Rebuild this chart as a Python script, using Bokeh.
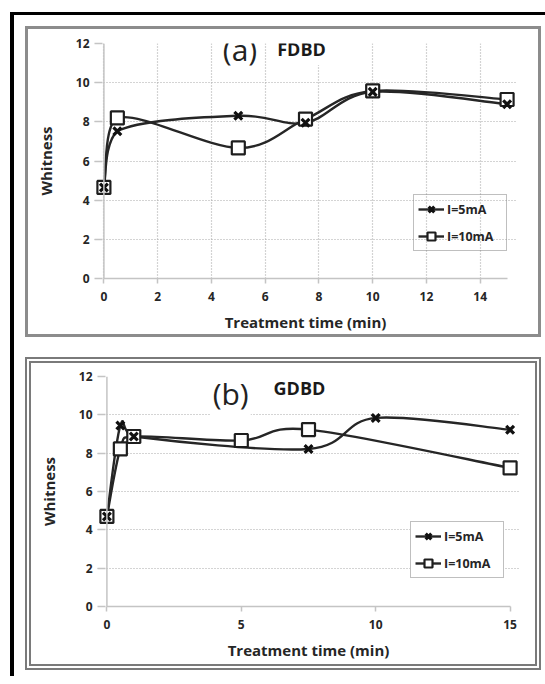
from bokeh.plotting import figure
from bokeh.models import Label, Legend, LegendItem, FixedTicker, Span
from bokeh.layouts import column
from bokeh.embed import file_html
from bokeh.resources import INLINE

# ---------------- data ----------------
time_a_5 = [0, 0.5, 5, 7.5, 10, 15]
white_a_5 = [4.65, 7.52, 8.31, 7.95, 9.53, 8.9]
time_a_10 = [0, 0.5, 5, 7.5, 10, 15]
white_a_10 = [4.65, 8.2, 6.67, 8.14, 9.58, 9.14]

time_b_5 = [0, 0.5, 1, 7.5, 10, 15]
white_b_5 = [4.7, 9.44, 8.87, 8.22, 9.84, 9.22]
time_b_10 = [0, 0.5, 1, 5, 7.5, 15]
white_b_10 = [4.7, 8.22, 8.87, 8.66, 9.23, 7.23]

x_ticks_a = [0, 2, 4, 6, 8, 10, 12, 14]
x_ticks_b = [0, 5, 10, 15]
y_ticks = [0, 2, 4, 6, 8, 10, 12]
series_labels = ["I=5mA", "I=10mA"]
x_label = "Treatment time (min)"
y_label = "Whitness"

FONT = "Open Sans"
INK = "#262626"
AXIS_GRAY = "#c4c4c4"


def smooth_segments(xs, ys):
    """Cubic Bezier control points (Excel-like smoothed line) from the data."""
    n = len(xs)
    x0, y0, x1, y1, cx0, cy0, cx1, cy1 = [], [], [], [], [], [], [], []
    for i in range(n - 1):
        ax, ay = xs[i], ys[i]
        bx, by = xs[i + 1], ys[i + 1]
        px, py = (xs[i - 1], ys[i - 1]) if i > 0 else (ax, ay)
        nx, ny = (xs[i + 2], ys[i + 2]) if i + 2 < n else (bx, by)
        c0x = ax + (bx - px) / 6.0
        c0y = ay + (by - py) / 6.0
        c1x = bx - (nx - ax) / 6.0
        c1y = by - (ny - ay) / 6.0
        c0x = min(max(c0x, ax), bx)
        c1x = min(max(c1x, ax), bx)
        x0.append(ax); y0.append(ay); x1.append(bx); y1.append(by)
        cx0.append(c0x); cy0.append(c0y); cx1.append(c1x); cy1.append(c1y)
    return dict(x0=x0, y0=y0, x1=x1, y1=y1, cx0=cx0, cy0=cy0, cx1=cx1, cy1=cy1)


def panel(t5, w5, t10, w10, xticks, vgrid, w, h, borders, margin, css,
          tag, name, tag_pos, name_pos, legend_loc, legend_bg):
    p = figure(width=w, height=h, x_range=(-0.35, 15.35), y_range=(0, 12),
               output_backend="svg", toolbar_location=None,
               min_border_left=borders[0], min_border_right=borders[1],
               min_border_top=borders[2], min_border_bottom=borders[3],
               margin=margin, styles=css)
    p.outline_line_color = None
    p.background_fill_color = "white"
    p.border_fill_color = "white"

    p.xaxis.ticker = FixedTicker(ticks=xticks)
    p.yaxis.ticker = FixedTicker(ticks=y_ticks)
    p.xaxis.bounds = (0, 15)
    p.xaxis.axis_label = x_label
    p.yaxis.axis_label = y_label
    for ax in (p.xaxis, p.yaxis):
        ax.axis_line_color = AXIS_GRAY
        ax.axis_line_width = 1.5
        ax.major_tick_line_color = AXIS_GRAY
        ax.major_tick_line_width = 1.5
        ax.minor_tick_line_color = None
        ax.major_label_text_font = FONT
        ax.major_label_text_font_style = "bold"
        ax.major_label_text_font_size = "12px"
        ax.major_label_text_color = INK
        ax.axis_label_text_font = FONT
        ax.axis_label_text_font_style = "bold"
        ax.axis_label_text_font_size = "15px"
        ax.axis_label_text_color = INK
    p.xaxis.major_tick_out = 5
    p.xaxis.major_tick_in = 0
    p.xaxis.major_label_standoff = 8
    p.xaxis.axis_label_standoff = 8
    # the y axis sits at the frame edge, just left of x = 0; its ticks reach in to x = 0
    p.yaxis.axis_line_color = None
    p.yaxis.major_tick_out = 0
    p.yaxis.major_tick_in = 8
    p.yaxis.major_label_standoff = 5
    p.yaxis.axis_label_standoff = 17
    p.add_layout(Span(location=0, dimension="height", line_color=AXIS_GRAY,
                      line_width=1.5))

    p.ygrid.grid_line_color = "#a8a8a8"
    p.ygrid.grid_line_dash = "1 2"
    p.ygrid.grid_line_width = 1.2
    if vgrid:
        p.xgrid.grid_line_color = "#a8a8a8"
        p.xgrid.grid_line_dash = "1 2"
        p.xgrid.grid_line_width = 1.2
    else:
        p.xgrid.grid_line_color = None

    b10 = p.bezier(source=smooth_segments(t10, w10), x0="x0", y0="y0", x1="x1", y1="y1",
                   cx0="cx0", cy0="cy0", cx1="cx1", cy1="cy1",
                   line_color="#262626", line_width=2.4)
    b5 = p.bezier(source=smooth_segments(t5, w5), x0="x0", y0="y0", x1="x1", y1="y1",
                  cx0="cx0", cy0="cy0", cx1="cx1", cy1="cy1",
                  line_color="#262626", line_width=2.4)
    s10 = p.scatter(t10, w10, marker="square", size=13, line_color="#1e1e1e",
                    line_width=2.2, fill_color="white")
    s5 = p.scatter(t5, w5, marker="x", size=11, line_color="#111111", line_width=3.2)

    p.add_layout(Label(x=tag_pos[0], y=tag_pos[1], text=tag, text_font=FONT,
                       text_font_size="30px", text_color="#222222",
                       text_baseline="middle", background_fill_color="white",
                       padding=2))
    p.add_layout(Label(x=name_pos[0], y=name_pos[1], text=name, text_font=FONT,
                       text_font_style="bold", text_font_size="18px",
                       text_color="#1a1a1a", text_baseline="middle",
                       background_fill_color="white", padding=4))

    legend = Legend(items=[LegendItem(label=series_labels[0], renderers=[b5, s5]),
                           LegendItem(label=series_labels[1], renderers=[b10, s10])],
                    location=legend_loc, margin=0, padding=4, spacing=7,
                    glyph_width=26, glyph_height=20, label_height=20,
                    label_width=55, label_standoff=3,
                    label_text_font=FONT, label_text_font_style="bold",
                    label_text_font_size="12.5px", label_text_color=INK,
                    border_line_color="#808080", border_line_width=1.5,
                    background_fill_color="white", background_fill_alpha=legend_bg)
    p.add_layout(legend)
    return p


# panel boxes: css border is inside the box and the canvas is shifted by it
pa = panel(time_a_5, white_a_5, time_a_10, white_a_10, x_ticks_a, True,
           516, 311, (66, 21, 14, 62), (11, 4, 0, 11),
           {"border": "3px solid #8c8c8c"},
           "(a)", "FDBD", (4.35, 11.7), (6.3, 11.72), (319, 27), 0.0)

pb = panel(time_b_5, white_b_5, time_b_10, white_b_10, x_ticks_b, False,
           516, 313, (66, 28, 13, 70), (20, 4, 6, 11),
           {"border": "6px double #7a7a7a"},
           "(b)", "GDBD", (3.86, 11.1), (6.05, 11.4), (313, 28), 1.0)

root = column(pa, pb, margin=(12, 0, 0, 10),
              styles={"border-left": "4px solid #000000",
                      "border-top": "3px solid #000000"})

open("out.html", "w").write(file_html(root, INLINE))
